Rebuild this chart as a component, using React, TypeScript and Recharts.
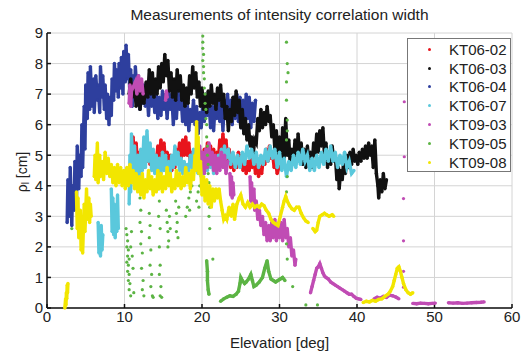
import React from "react";
import {
  ScatterChart,
  Scatter,
  XAxis,
  YAxis,
  CartesianGrid,
  Label,
} from "recharts";

type Pt = [number, number];

const xTicks = [0, 10, 20, 30, 40, 50, 60];
const yTicks = [0, 1, 2, 3, 4, 5, 6, 7, 8, 9];

// traces are stored as segments; dense traces are drawn as a jagged thick line of dots
const KT06_02: Pt[][] = [
  [
    [11.0, 5.2], [11.1, 5.6], [11.3, 4.9], [11.5, 5.4], [11.7, 4.6], [11.9, 5.1], [12.1, 4.5], [12.3, 5.0],
    [12.5, 4.6], [12.7, 5.2], [12.9, 4.8], [13.1, 5.3], [13.3, 4.7], [13.5, 5.1], [13.7, 4.6], [13.9, 5.0],
    [14.1, 4.7], [14.3, 5.3], [14.5, 4.9], [14.7, 5.5], [14.9, 5.0], [15.1, 5.4], [15.3, 4.7], [15.5, 5.1],
    [15.7, 4.6], [15.9, 5.0], [16.1, 4.5], [16.3, 4.9], [16.5, 4.6], [16.7, 5.2], [16.9, 4.8], [17.1, 5.4],
    [17.3, 4.9], [17.5, 5.5], [17.7, 5.0], [17.9, 5.6], [18.1, 5.0], [18.3, 5.4], [18.5, 4.7], [18.7, 5.1],
    [18.9, 4.6], [19.1, 5.0], [19.3, 4.5], [19.5, 4.9], [19.7, 4.6], [19.9, 5.1], [20.1, 4.7], [20.3, 5.2],
    [20.5, 4.8], [20.7, 5.4], [20.9, 4.9], [21.1, 5.3], [21.3, 4.8], [21.5, 5.2], [21.7, 4.7], [21.9, 5.1],
    [22.1, 4.8], [22.3, 5.5], [22.5, 5.0], [22.7, 5.7], [22.9, 5.1], [23.1, 5.5], [23.3, 4.8], [23.5, 5.2],
    [23.7, 4.6], [23.9, 5.0], [24.1, 4.5], [24.3, 4.9], [24.5, 4.6], [24.7, 5.1], [24.9, 4.7], [25.1, 5.0],
    [25.3, 4.5], [25.5, 4.9], [25.7, 4.4], [25.9, 4.8], [26.1, 4.5], [26.3, 5.0], [26.5, 4.6], [26.7, 4.9],
    [26.9, 4.4], [27.1, 4.7], [27.3, 4.3], [27.5, 4.6], [27.7, 4.4], [27.9, 4.9], [28.1, 4.7], [28.3, 5.2],
    [28.5, 4.8], [28.7, 5.3], [28.9, 4.9], [29.1, 5.1], [29.3, 4.6], [29.5, 4.8], [29.7, 4.4], [29.9, 4.6],
  ],
];

const KT06_03: Pt[][] = [
  [
    [10.6, 7.0], [10.8, 7.5], [11.0, 6.9], [11.3, 7.3], [11.5, 6.6], [11.8, 7.1], [12.0, 6.5], [12.3, 7.2],
    [12.5, 6.7], [12.8, 7.4], [13.0, 6.9], [13.2, 7.8], [13.4, 7.0], [13.6, 7.7], [13.8, 6.9], [14.0, 7.5],
    [14.2, 7.0], [14.4, 7.9], [14.6, 7.2], [14.8, 8.0], [15.0, 7.4], [15.2, 8.3], [15.4, 7.6], [15.6, 8.1],
    [15.8, 7.1], [16.0, 7.7], [16.2, 6.9], [16.4, 7.5], [16.6, 6.8], [16.8, 7.8], [17.0, 7.1], [17.2, 7.6],
    [17.4, 6.8], [17.6, 7.3], [17.8, 6.6], [18.0, 7.2], [18.2, 6.7], [18.4, 7.6], [18.6, 7.0], [18.8, 7.9],
    [19.0, 7.2], [19.2, 7.7], [19.4, 6.9], [19.6, 7.4], [19.8, 6.6], [20.0, 7.2], [20.2, 6.5], [20.4, 7.0],
    [20.6, 6.4], [20.8, 7.1], [21.0, 6.6], [21.2, 7.3], [21.4, 6.7], [21.6, 7.0], [21.8, 6.5], [22.0, 7.2],
    [22.2, 6.8], [22.4, 7.3], [22.6, 6.6], [22.8, 7.0], [23.0, 6.2], [23.2, 6.6], [23.4, 5.8], [23.6, 6.5],
    [23.8, 6.1], [24.0, 6.9], [24.2, 6.3], [24.4, 7.1], [24.6, 6.4], [24.8, 6.8], [25.0, 5.9], [25.2, 6.5],
    [25.4, 5.7], [25.6, 6.2], [25.8, 5.5], [26.0, 6.0], [26.2, 5.3], [26.4, 5.6], [26.6, 5.0], [26.8, 5.5],
    [27.0, 5.4], [27.2, 6.2], [27.4, 5.8], [27.6, 6.5], [27.8, 5.9], [28.0, 6.4], [28.2, 6.0], [28.4, 6.6],
    [28.6, 6.1], [28.8, 6.3], [29.0, 5.6], [29.2, 6.0], [29.4, 5.2], [29.6, 5.8], [29.8, 5.0], [30.0, 5.6],
    [30.2, 4.6], [30.4, 5.9], [30.6, 4.9], [30.8, 6.2], [31.0, 5.0], [31.2, 5.5], [31.4, 4.6], [31.6, 5.2],
    [31.8, 4.8], [32.0, 5.5], [32.2, 4.9], [32.4, 5.7], [32.6, 5.0], [32.8, 5.4], [33.0, 4.7], [33.2, 5.2],
    [33.4, 4.6], [33.6, 5.3], [33.8, 4.8], [34.0, 5.1], [34.2, 4.6], [34.4, 5.4], [34.6, 5.0], [34.8, 5.7],
    [35.0, 5.1], [35.2, 5.8], [35.4, 5.3], [35.6, 5.9], [35.8, 5.0], [36.0, 5.4], [36.2, 4.6], [36.4, 5.1],
    [36.6, 4.7], [36.8, 5.3], [37.0, 4.8], [37.2, 5.0], [37.4, 4.2], [37.6, 4.6], [37.7, 3.9], [37.9, 4.5],
    [38.1, 4.2], [38.3, 4.9], [38.5, 4.4], [38.7, 5.0], [38.9, 4.6], [39.1, 5.1], [39.3, 4.7], [39.5, 5.2],
    [39.7, 4.8], [39.9, 5.0], [40.1, 4.7], [40.3, 5.1], [40.5, 4.8], [40.7, 5.2], [40.9, 4.9], [41.1, 5.3],
    [41.3, 4.9], [41.5, 5.4], [41.7, 5.0], [41.9, 5.3], [42.1, 4.6], [42.3, 5.5], [42.5, 4.4], [42.7, 4.0],
    [42.8, 3.6], [43.0, 4.2], [43.2, 3.8], [43.4, 4.4], [43.6, 3.9], [43.8, 4.2],
  ],
];

const KT06_04: Pt[][] = [
  [
    [2.6, 2.8], [2.7, 4.2], [2.9, 3.0], [3.0, 4.6], [3.2, 2.7], [3.3, 4.0], [3.5, 3.2], [3.6, 4.8],
    [3.8, 3.5], [3.9, 5.3], [4.1, 3.9], [4.2, 5.0], [4.4, 4.3], [4.5, 6.0], [4.6, 4.6], [4.8, 6.6],
    [4.9, 5.2], [5.0, 7.3], [5.2, 6.2], [5.3, 7.7], [5.5, 6.5], [5.6, 7.9], [5.8, 6.6], [6.0, 7.5],
    [6.1, 6.4], [6.3, 7.6], [6.5, 6.8], [6.6, 7.3], [6.8, 6.4], [6.9, 7.9], [7.1, 6.9], [7.2, 7.6],
    [7.4, 6.5], [7.5, 7.3], [7.7, 6.2], [7.8, 7.0], [8.0, 6.0], [8.1, 6.9], [8.3, 6.3], [8.4, 7.5],
    [8.6, 6.8], [8.7, 8.0], [8.9, 7.1], [9.0, 7.8], [9.2, 6.9], [9.3, 8.0], [9.5, 7.2], [9.6, 8.2],
    [9.8, 7.0], [9.9, 8.4], [10.1, 7.4], [10.2, 8.6], [10.4, 7.5], [10.5, 8.3], [10.7, 6.9], [10.8, 7.8],
    [11.0, 6.6], [11.1, 7.6], [11.3, 6.9], [11.4, 7.9], [11.6, 7.1], [11.8, 7.6], [12.0, 6.5], [12.1, 7.3],
    [12.3, 6.7], [12.5, 7.3], [12.7, 6.6], [12.9, 7.1], [13.1, 6.3], [13.3, 7.2], [13.5, 6.6], [13.7, 7.2],
    [13.9, 6.4], [14.1, 7.0], [14.3, 6.2], [14.5, 6.9], [14.7, 6.3], [14.9, 7.1], [15.1, 6.5], [15.3, 7.0],
    [15.5, 6.2], [15.7, 7.1], [15.9, 6.5], [16.1, 7.0], [16.3, 6.0], [16.5, 6.9], [16.7, 6.2], [16.9, 7.1],
    [17.1, 6.5], [17.3, 6.9], [17.5, 6.1], [17.7, 6.8], [17.9, 6.0], [18.1, 6.7], [18.3, 5.8], [18.5, 6.5],
    [18.7, 6.1], [18.9, 6.8], [19.1, 6.0], [19.3, 6.6], [19.5, 5.7], [19.7, 6.4], [19.9, 5.9], [20.1, 6.7],
    [20.3, 6.1], [20.5, 7.0], [20.7, 6.3], [20.9, 6.8], [21.1, 5.9], [21.3, 6.6], [21.5, 5.8], [21.7, 6.7],
    [21.9, 6.2], [22.1, 6.9], [22.3, 6.1], [22.5, 6.7], [22.7, 5.8], [22.9, 6.8], [23.1, 6.3], [23.3, 7.0],
    [23.5, 6.2], [23.7, 6.8], [23.9, 6.0], [24.1, 6.9], [24.3, 6.2], [24.5, 7.0], [24.7, 6.1], [24.9, 6.9],
    [25.1, 5.9], [25.3, 6.8], [25.5, 6.1], [25.7, 7.0], [25.9, 6.2], [26.1, 6.9], [26.3, 5.9], [26.5, 6.7],
    [26.7, 6.1], [26.9, 6.8],
  ],
];

const KT06_07: Pt[][] = [
  [[6.6, 2.8], [6.7, 1.8], [6.8, 2.6], [6.9, 1.7], [7.0, 2.7], [7.1, 1.9], [7.2, 2.4]],
  [
    [8.3, 3.9], [8.4, 2.5], [8.5, 3.6], [8.6, 2.4], [8.7, 3.4], [8.8, 2.3], [8.9, 3.2], [9.0, 2.5],
    [9.1, 3.7], [9.2, 2.6],
  ],
  [
    [10.6, 3.4], [10.7, 5.0], [10.8, 3.8], [10.9, 5.7], [11.1, 4.4], [11.3, 5.3], [11.5, 4.2], [11.7, 5.0],
    [11.9, 4.3], [12.1, 5.2], [12.3, 4.5], [12.5, 5.6], [12.7, 4.6], [12.9, 5.8], [13.1, 4.8], [13.3, 5.4],
    [13.5, 4.5], [13.7, 5.2], [13.9, 4.4], [14.1, 5.0], [14.3, 4.3], [14.5, 4.9], [14.7, 4.4], [14.9, 5.1],
    [15.1, 4.5], [15.3, 5.0], [15.5, 4.3], [15.7, 4.8], [15.9, 4.4], [16.1, 5.0], [16.3, 4.6], [16.5, 5.3],
    [16.7, 4.7], [16.9, 5.1], [17.1, 4.5], [17.3, 4.9], [17.5, 4.4], [17.7, 4.8], [17.9, 4.3], [18.1, 4.7],
    [18.3, 4.5], [18.5, 5.0], [18.7, 4.6], [18.9, 5.2], [19.1, 4.7], [19.3, 5.0], [19.5, 4.4], [19.7, 4.8],
    [19.9, 4.3], [20.1, 4.7], [20.3, 4.4], [20.5, 5.0], [20.7, 4.5], [20.9, 5.2], [21.1, 4.6], [21.3, 5.0],
    [21.5, 4.4], [21.7, 4.8], [21.9, 4.5], [22.1, 5.0], [22.3, 4.7], [22.5, 5.2], [22.7, 4.8], [22.9, 5.3],
    [23.1, 4.9], [23.4, 5.2], [23.7, 4.7], [24.0, 5.1], [24.3, 4.6], [24.6, 5.0], [24.9, 4.6], [25.2, 5.1],
    [25.5, 4.7], [25.8, 5.3], [26.1, 4.9], [26.4, 5.2], [26.7, 4.7], [27.0, 5.1], [27.3, 4.6], [27.6, 5.0],
    [27.9, 4.7], [28.2, 5.2], [28.5, 4.8], [28.8, 5.3], [29.1, 4.9], [29.4, 5.2], [29.7, 4.6], [30.0, 5.1],
    [30.3, 4.5], [30.6, 4.9], [30.9, 4.3], [31.2, 4.8], [31.5, 4.5], [31.8, 5.0], [32.1, 4.6], [32.4, 5.1],
    [32.7, 4.7], [33.0, 5.2], [33.3, 4.8], [33.6, 5.0], [33.9, 4.5], [34.2, 4.9], [34.5, 4.5], [34.8, 5.0],
    [35.1, 4.6], [35.4, 5.1], [35.7, 4.7], [36.0, 5.2], [36.3, 4.8], [36.6, 5.3], [36.9, 4.8], [37.2, 5.1],
    [37.5, 4.6], [37.8, 5.0], [38.1, 4.7], [38.4, 5.1], [38.7, 4.6], [39.0, 4.8], [39.3, 4.4], [39.6, 4.5],
  ],
];

const KT09_03: Pt[][] = [
  [
    [10.6, 6.7], [10.7, 7.3], [10.8, 6.6], [10.9, 7.1], [11.4, 7.4], [11.6, 7.0], [11.8, 7.6], [12.0, 7.1],
    [12.2, 7.5], [12.4, 7.0],
  ],
  [[15.3, 6.8], [15.4, 7.1], [15.5, 6.9]],
  [
    [19.5, 4.6], [19.7, 5.3], [19.9, 4.5], [20.1, 5.1], [20.3, 4.4], [20.5, 5.2], [20.7, 4.6], [20.9, 5.4],
    [21.1, 4.7], [21.3, 5.1], [21.5, 4.5], [21.7, 5.0], [21.9, 4.4], [22.1, 4.9], [22.3, 4.5], [22.5, 5.1],
    [22.7, 4.6], [22.9, 5.0], [23.1, 4.4], [23.3, 4.8],
  ],
  [[23.6, 4.4], [23.7, 3.7], [23.8, 4.3], [23.9, 3.6], [24.0, 4.1], [24.1, 3.7]],
  [
    [26.2, 4.3], [26.3, 3.5], [26.4, 4.1], [26.5, 3.4], [26.7, 3.9], [26.8, 3.2], [27.0, 3.5], [27.2, 2.9],
    [27.4, 3.2], [27.6, 2.7], [27.8, 3.0], [28.0, 2.4], [28.2, 2.8], [28.4, 2.2], [28.6, 2.7], [28.8, 2.2],
    [29.0, 2.8], [29.2, 2.3], [29.4, 2.9], [29.6, 2.2], [29.8, 2.7], [30.0, 2.3], [30.2, 2.8], [30.4, 2.2],
    [30.6, 2.9], [30.8, 2.3], [31.0, 2.6], [31.2, 2.0], [31.4, 2.3], [31.6, 1.7], [31.8, 1.9], [32.0, 1.4],
    [32.1, 1.6],
  ],
  [
    [34.0, 0.5], [34.2, 0.7], [34.4, 0.9], [34.6, 1.1], [34.8, 1.3], [35.0, 1.35], [35.2, 1.45], [35.4, 1.3],
    [35.6, 1.15], [35.8, 1.05], [36.0, 1.0], [36.3, 0.95], [36.6, 0.85], [36.9, 0.8], [37.2, 0.75], [37.5, 0.7],
    [37.8, 0.65], [38.1, 0.6], [38.4, 0.55], [38.7, 0.5], [39.0, 0.45], [39.3, 0.45], [39.6, 0.38], [39.9, 0.32],
    [40.2, 0.3], [40.5, 0.28],
  ],
  [
    [42.2, 0.3], [42.6, 0.35], [43.0, 0.32], [43.4, 0.38], [43.8, 0.35], [44.2, 0.42], [44.6, 0.4], [45.0, 0.36],
    [45.4, 0.3],
  ],
  [[47.2, 0.15], [47.7, 0.14], [48.2, 0.16], [48.7, 0.15], [49.2, 0.14], [49.7, 0.15], [50.1, 0.16]],
  [
    [51.8, 0.17], [52.4, 0.16], [53.0, 0.17], [53.6, 0.15], [54.2, 0.16], [54.8, 0.17], [55.4, 0.18], [56.0, 0.19],
    [56.4, 0.2],
  ],
];
const KT09_03_dots: Pt[] = [[46.1, 6.75], [46.1, 4.95], [46.0, 3.58], [46.0, 2.2], [46.0, 1.2], [46.0, 0.68]];

const KT09_05_low: Pt[][] = [
  [
    [20.6, 1.55], [20.7, 1.2], [20.7, 0.9], [20.8, 0.6], [20.9, 0.45],
  ],
  [
    [22.4, 0.22], [22.8, 0.3], [23.2, 0.35], [23.6, 0.4], [24.0, 0.38], [24.4, 0.45], [24.7, 0.55], [24.9, 0.8],
    [25.0, 1.0], [25.2, 0.9], [25.5, 0.8], [25.7, 0.85], [26.0, 0.95], [26.3, 1.1], [26.5, 0.9], [26.7, 0.7],
    [27.0, 0.75], [27.4, 0.85], [27.8, 1.0], [28.1, 1.3], [28.4, 1.55], [28.6, 1.2], [28.9, 0.95], [29.2, 0.9],
    [29.5, 0.85], [29.8, 0.9], [30.1, 0.95], [30.4, 1.0], [30.7, 0.9],
  ],
];
const KT09_05_dots: Pt[] = [
  [3.2, 2.6],
  [10.2, 2.6], [10.3, 2.4], [10.4, 2.2], [10.3, 2.0], [10.5, 1.9], [10.4, 1.7], [10.6, 1.6], [10.3, 1.5],
  [10.5, 1.4], [10.4, 1.2], [10.6, 1.1], [10.5, 0.9], [10.7, 0.8], [10.6, 0.6], [10.8, 0.4], [10.9, 2.5],
  [10.8, 2.0], [11.0, 1.7], [11.1, 1.3], [11.2, 0.5],
  [12.0, 3.6], [12.1, 3.2], [12.0, 2.8], [12.2, 2.5], [12.1, 2.1], [12.3, 1.8], [12.2, 1.3], [12.4, 0.9],
  [12.3, 0.6], [12.5, 0.4],
  [13.2, 3.1], [13.3, 2.7], [13.2, 2.3], [13.4, 1.9], [13.3, 1.4], [13.5, 1.1], [13.4, 0.7], [13.6, 0.4],
  [13.7, 0.35],
  [14.4, 3.9], [14.5, 3.5], [14.4, 3.0], [14.6, 2.6], [14.5, 2.0], [14.6, 1.4], [14.5, 1.1], [14.7, 0.7],
  [14.6, 0.4], [14.8, 0.35],
  [15.4, 3.2], [15.5, 2.8], [15.6, 2.5], [15.7, 2.2], [15.6, 2.0], [15.8, 3.0], [15.9, 2.6],
  [16.6, 3.5], [16.7, 3.1], [16.8, 2.8], [16.7, 2.5], [16.9, 2.3], [17.0, 3.3],
  [17.9, 3.0], [18.1, 3.3], [18.3, 3.6], [18.5, 3.8], [18.7, 4.0], [18.4, 3.2],
  [19.3, 3.5], [19.5, 3.8], [19.7, 4.0], [19.6, 3.3],
  [20.1, 8.9], [20.1, 8.7], [20.1, 8.5], [20.2, 8.3], [20.1, 8.1], [20.2, 7.9], [20.2, 7.7], [20.3, 7.5],
  [20.3, 7.2], [20.4, 7.0], [20.4, 6.7], [20.5, 6.5], [20.5, 6.2], [20.6, 6.0], [20.6, 5.6], [20.7, 5.3],
  [20.7, 5.0], [20.8, 4.7], [20.8, 4.4], [20.9, 4.1], [20.9, 3.8], [21.0, 3.3], [20.9, 3.0], [21.0, 2.6],
  [21.4, 1.6],
  [30.9, 8.7], [31.0, 8.0], [31.1, 7.7], [30.9, 7.4], [30.9, 6.8], [31.0, 6.15], [31.0, 5.8], [30.9, 5.5],
  [31.0, 4.3], [30.9, 3.8], [30.9, 2.1], [31.0, 1.6], [31.7, 0.7],
  [33.4, 0.1], [34.9, 0.1],
];

const KT09_08: Pt[][] = [
  [[2.3, 0.0], [2.4, 0.3], [2.45, 0.1], [2.5, 0.5], [2.55, 0.3], [2.6, 0.75], [2.65, 0.5], [2.7, 0.8]],
  [
    [3.8, 3.8], [3.9, 2.6], [4.0, 3.6], [4.1, 2.3], [4.3, 3.2], [4.4, 1.9], [4.5, 2.8], [4.6, 1.8],
    [4.8, 3.4], [4.9, 2.5], [5.1, 3.9], [5.2, 2.9], [5.4, 3.6], [5.5, 2.8], [5.6, 3.4], [5.7, 3.0],
  ],
  [
    [6.1, 4.3], [6.2, 5.0], [6.3, 4.2], [6.5, 5.4], [6.6, 4.1], [6.8, 5.0], [6.9, 4.3], [7.1, 4.8],
    [7.3, 4.2], [7.5, 5.1], [7.7, 4.4], [7.9, 4.9], [8.1, 4.3], [8.3, 4.7], [8.5, 4.1], [8.7, 4.6],
    [8.9, 4.0], [9.1, 4.7], [9.3, 4.1], [9.5, 4.6], [9.7, 4.0], [9.9, 4.5], [10.1, 3.9], [10.3, 4.6],
    [10.5, 4.0], [10.7, 4.7], [10.9, 4.1], [11.1, 4.5], [11.3, 3.9], [11.5, 4.4], [11.7, 3.8], [11.9, 4.3],
    [12.1, 3.7], [12.3, 4.4], [12.5, 3.6], [12.7, 4.2], [12.9, 3.8], [13.1, 4.5], [13.3, 3.9], [13.5, 4.3],
    [13.7, 3.7], [13.9, 4.2], [14.1, 3.8], [14.3, 4.5], [14.5, 3.9], [14.7, 4.4], [14.9, 3.8], [15.1, 4.3],
    [15.3, 3.9], [15.5, 4.6], [15.7, 4.0], [15.9, 4.4], [16.1, 3.8], [16.3, 4.2], [16.5, 3.9], [16.7, 4.5],
    [16.9, 4.0], [17.1, 4.4], [17.3, 3.9], [17.5, 4.3], [17.7, 4.0], [17.9, 4.6], [18.1, 4.1], [18.3, 4.4],
    [18.5, 3.9], [18.7, 4.5], [18.9, 4.2], [19.1, 5.0], [19.2, 4.5], [19.3, 6.1], [19.4, 4.9], [19.5, 5.6],
    [19.6, 4.4], [19.8, 4.8], [20.0, 3.7], [20.2, 4.3], [20.4, 3.5], [20.6, 4.2], [20.8, 3.4], [21.0, 4.0],
    [21.2, 3.3], [21.4, 3.9], [21.6, 3.5], [21.8, 3.9], [22.0, 3.6], [22.2, 3.9], [22.4, 3.5], [22.6, 3.2],
    [22.8, 2.9], [23.0, 3.0], [23.2, 2.9], [23.5, 3.3], [23.8, 3.0], [24.0, 3.4], [24.2, 2.9], [24.5, 3.4],
    [24.8, 3.6], [25.0, 3.7], [25.3, 3.4], [25.6, 3.3], [25.9, 3.45], [26.2, 3.3], [26.5, 3.4], [26.8, 3.3],
    [27.1, 3.35], [27.4, 3.3], [27.7, 3.4], [28.0, 3.35], [28.3, 3.2], [28.6, 3.1], [28.9, 2.9], [29.2, 2.8],
    [29.5, 2.75], [29.8, 2.7], [30.1, 3.0], [30.4, 3.3], [30.6, 3.5], [30.8, 3.65], [31.0, 3.5], [31.3, 3.35],
    [31.6, 3.25], [31.9, 3.2], [32.2, 3.3], [32.5, 3.3], [32.8, 3.1], [33.1, 2.95], [33.4, 2.85], [33.7, 2.8],
  ],
  [
    [34.3, 2.6], [34.6, 2.5], [34.8, 2.55], [35.0, 2.8], [35.2, 3.0], [35.5, 3.05], [35.8, 3.1], [36.1, 3.05],
    [36.4, 3.0], [36.8, 3.05], [37.0, 3.0],
  ],
  [
    [40.8, 0.18], [41.2, 0.22], [41.6, 0.2], [42.0, 0.25], [42.4, 0.22], [42.8, 0.28], [43.2, 0.3], [43.6, 0.38],
    [44.0, 0.45], [44.3, 0.55], [44.6, 0.7], [44.8, 0.9], [45.0, 1.1], [45.2, 1.3], [45.4, 1.35], [45.6, 1.2],
    [45.8, 1.0], [46.0, 0.8], [46.3, 0.6], [46.6, 0.5], [46.9, 0.45], [47.2, 0.5],
  ],
];

const FONT = "'Liberation Sans', Arial, Helvetica, sans-serif";

const SERIES = [
  { name: "KT06-02", color: "#e8141c", lines: KT06_02, dots: [] as Pt[] },
  { name: "KT06-03", color: "#111111", lines: KT06_03, dots: [] as Pt[] },
  { name: "KT06-04", color: "#2e3f9e", lines: KT06_04, dots: [] as Pt[] },
  { name: "KT06-07", color: "#5ac8dc", lines: KT06_07, dots: [] as Pt[] },
  { name: "KT09-03", color: "#c04cb4", lines: KT09_03, dots: KT09_03_dots },
  { name: "KT09-05", color: "#5cb444", lines: KT09_05_low, dots: KT09_05_dots },
  { name: "KT09-08", color: "#f2e600", lines: KT09_08, dots: [] as Pt[] },
];

// blue sits under black and red in the original
const DRAW_ORDER = ["KT06-04", "KT06-03", "KT06-02", "KT06-07", "KT09-03", "KT09-05", "KT09-08"];

const toRows = (pts: Pt[]) => pts.map(([x, y]) => ({ x, y }));

function dot(color: string, r: number) {
  return (p: any) => <circle cx={p.cx} cy={p.cy} r={r} fill={color} />;
}

function YLabel() {
  return (
    <text
      x={22}
      y={172}
      transform="rotate(-90, 22, 172)"
      textAnchor="middle"
      dominantBaseline="central"
      fontSize={14}
      fontFamily={FONT}
      fill="#222"
    >
      <tspan>ρ</tspan>
      <tspan fontSize={10} dy={3}>l</tspan>
      <tspan dy={-3}> [cm]</tspan>
    </text>
  );
}

function ChartLegendBox() {
  return (
    <div
      style={{
        position: "absolute",
        left: 407,
        top: 38,
        width: 104,
        height: 134,
        background: "#fff",
        border: "1px solid #777",
        boxSizing: "border-box",
        paddingTop: 1,
      }}
    >
      {SERIES.map((s) => (
        <div
          key={s.name}
          style={{
            display: "flex",
            alignItems: "center",
            height: 18.8,
            fontFamily: FONT,
            fontSize: 15,
            color: "#222",
          }}
        >
          <span
            style={{
              width: 3,
              height: 3,
              borderRadius: 2,
              background: s.color,
              marginLeft: 20,
              marginRight: 18,
            }}
          />
          <span>{s.name}</span>
        </div>
      ))}
    </div>
  );
}

export default function App() {
  const tickStyle = { fontSize: 15, fill: "#222", fontFamily: FONT };
  const ordered = DRAW_ORDER.map((n) => SERIES.find((s) => s.name === n)!);
  return (
    <div
      style={{
        position: "absolute",
        left: 0,
        top: 0,
        width: 528,
        height: 352,
        background: "#fff",
        overflow: "hidden",
      }}
    >
      <div
        style={{
          position: "absolute",
          left: 47,
          width: 465,
          top: 6,
          textAlign: "center",
          fontFamily: FONT,
          fontSize: 15.5,
          color: "#222",
        }}
      >
        Measurements of intensity correlation width
      </div>
      <ScatterChart
        width={528}
        height={352}
        margin={{ top: 33, right: 16, bottom: 0, left: 0 }}
      >
        <CartesianGrid stroke="#d4d4d4" strokeWidth={1} />
        <XAxis
          type="number"
          dataKey="x"
          domain={[0, 60]}
          ticks={xTicks}
          height={44}
          stroke="#111"
          strokeWidth={1.5}
          tickSize={-4}
          tickMargin={7}
          tick={tickStyle}
          interval={0}
        >
          <Label
            value="Elevation [deg]"
            position="insideBottom"
            offset={4}
            style={{ fontSize: 15, fill: "#222", fontFamily: FONT }}
          />
        </XAxis>
        <XAxis
          xAxisId="top"
          orientation="top"
          type="number"
          domain={[0, 60]}
          ticks={xTicks}
          height={0}
          stroke="#111"
          strokeWidth={1.5}
          tickSize={-4}
          tick={false}
        />
        <YAxis
          type="number"
          dataKey="y"
          domain={[0, 9]}
          ticks={yTicks}
          width={47}
          stroke="#111"
          strokeWidth={1.5}
          tickSize={-4}
          tickMargin={8}
          tick={tickStyle}
          interval={0}
        >
          <Label content={<YLabel />} />
        </YAxis>
        <YAxis
          yAxisId="right"
          orientation="right"
          type="number"
          domain={[0, 9]}
          ticks={yTicks}
          width={0}
          stroke="#111"
          strokeWidth={1.5}
          tickSize={-4}
          tick={false}
        />
        {ordered.map((s) => [
          ...s.lines.map((seg, i) => (
            <Scatter
              key={`${s.name}-l${i}`}
              name={s.name}
              data={toRows(seg)}
              fill={s.color}
              line={{ stroke: s.color, strokeWidth: 3.4 }}
              lineType="joint"
              shape={dot(s.color, 1.7)}
              isAnimationActive={false}
              legendType="none"
            />
          )),
          s.dots.length ? (
            <Scatter
              key={`${s.name}-d`}
              name={s.name}
              data={toRows(s.dots)}
              fill={s.color}
              shape={dot(s.color, 1.6)}
              isAnimationActive={false}
              legendType="none"
            />
          ) : null,
        ])}
      </ScatterChart>
      <ChartLegendBox />
    </div>
  );
}
